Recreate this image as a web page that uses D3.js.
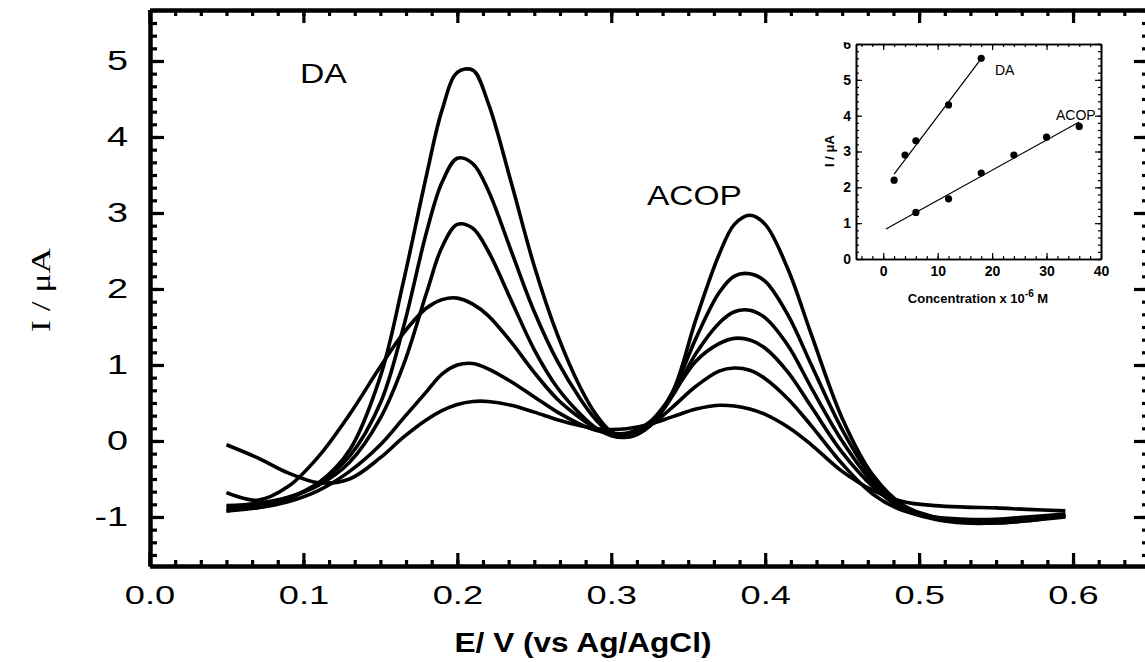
<!DOCTYPE html>
<html>
<head>
<meta charset="utf-8">
<script src="https://cdnjs.cloudflare.com/ajax/libs/d3/7.8.5/d3.min.js"></script>
<style>
  body { margin: 0; background: #fff; }
  svg { display: block; }
</style>
</head>
<body>
<div id="chart"></div>
<script>
// potential axis (V vs Ag/AgCl), shared by all six voltammograms
const potential = [0.05,0.07,0.09,0.11,0.13,0.15,0.165,0.18,0.19,0.2,0.21,0.22,0.235,0.25,0.265,0.28,0.29,0.3,0.31,0.325,0.34,0.355,0.37,0.38,0.39,0.4,0.415,0.43,0.45,0.47,0.49,0.51,0.53,0.55,0.57,0.595];

// currents (uA), largest to smallest
const curve1 = [-0.92,-0.86,-0.76,-0.55,-0.12,0.85,2.1,3.5,4.35,4.85,4.88,4.45,3.4,2.3,1.4,0.7,0.35,0.12,0.05,0.2,0.65,1.6,2.45,2.85,2.97,2.85,2.25,1.4,0.3,-0.45,-0.85,-1.0,-1.07,-1.08,-1.05,-0.98];
const curve2 = [-0.88,-0.85,-0.75,-0.55,-0.2,0.5,1.5,2.75,3.4,3.72,3.65,3.3,2.5,1.7,1.05,0.55,0.28,0.1,0.05,0.2,0.65,1.35,1.95,2.17,2.2,2.1,1.65,1.0,0.15,-0.5,-0.88,-1.02,-1.07,-1.07,-1.04,-0.99];
const curve3 = [-0.85,-0.82,-0.74,-0.58,-0.28,0.3,1.0,1.95,2.55,2.85,2.8,2.5,1.85,1.2,0.7,0.35,0.17,0.07,0.05,0.2,0.6,1.15,1.55,1.7,1.72,1.62,1.25,0.7,0.0,-0.55,-0.9,-1.03,-1.08,-1.08,-1.05,-1.0];
const curve4 = [-0.68,-0.78,-0.6,-0.2,0.35,0.98,1.42,1.75,1.86,1.88,1.8,1.65,1.3,0.9,0.55,0.3,0.17,0.1,0.1,0.25,0.62,1.05,1.28,1.35,1.33,1.22,0.9,0.45,-0.15,-0.6,-0.9,-1.02,-1.06,-1.06,-1.03,-0.98];
const curve5 = [-0.92,-0.88,-0.8,-0.65,-0.4,-0.05,0.3,0.65,0.88,1.0,1.02,0.95,0.78,0.58,0.38,0.22,0.14,0.1,0.1,0.2,0.45,0.72,0.92,0.96,0.93,0.82,0.55,0.2,-0.3,-0.7,-0.92,-1.0,-1.03,-1.03,-1.0,-0.96];
const curve6 = [-0.05,-0.22,-0.42,-0.55,-0.5,-0.22,0.05,0.28,0.4,0.48,0.52,0.52,0.47,0.38,0.28,0.2,0.16,0.15,0.16,0.22,0.32,0.42,0.47,0.46,0.42,0.35,0.18,-0.05,-0.4,-0.65,-0.8,-0.85,-0.87,-0.88,-0.9,-0.92];
const curves = [curve1, curve2, curve3, curve4, curve5, curve6];

const xTicks = [0, 0.1, 0.2, 0.3, 0.4, 0.5, 0.6];
const yTicks = [-1, 0, 1, 2, 3, 4, 5];

// inset: calibration
const daConc = [2, 4, 6, 12, 18];
const daCurrent = [2.2, 2.9, 3.3, 4.3, 5.6];
const acopConc = [6, 12, 18, 24, 30, 36];
const acopCurrent = [1.3, 1.68, 2.4, 2.9, 3.4, 3.7];
const daFitRange = [2, 18];
const acopFitRange = [0.5, 36];
const insetXTicks = [0, 10, 20, 30, 40];
const insetYTicks = [0, 1, 2, 3, 4, 5, 6];

const W = 1145, H = 662;
const FONT = "'Liberation Sans', Arial, Helvetica, sans-serif";

const svg = d3.select('#chart').append('svg')
  .attr('xmlns', 'http://www.w3.org/2000/svg')
  .attr('width', W).attr('height', H);
svg.append('rect').attr('width', W).attr('height', H).attr('fill', '#fff');

let x = d3.scaleLinear().domain([0, 0.6474]).range([149.5, 1146]);
let y = d3.scaleLinear().domain([-1.645, 5.671]).range([566, 10]);

// stretch text horizontally (the original figure is a bit wide)
function stretch(sel, f) {
  sel.each(function() {
    const l = this.getComputedTextLength();
    this.setAttribute('textLength', l * f);
    this.setAttribute('lengthAdjust', 'spacingAndGlyphs');
  });
}

function styleAxis(g, domainW, tickW) {
  g.attr('font-family', FONT);
  g.select('.domain').attr('stroke', '#000').attr('stroke-width', domainW);
  g.selectAll('.tick line').attr('stroke', '#000').attr('stroke-width', tickW);
  g.selectAll('.tick text').attr('fill', '#000');
}

const plain = d => String(d);   // keep the hyphen minus of the original

const xMinor = d3.range(0, 39).map(i => i / 60);
const yMinor = d3.range(-9, 35).map(i => i / 6).filter(v => v > -1.645 && v < 5.671);

// ---- main axes ----
const gx = svg.append('g').attr('transform', 'translate(0,566)')
  .call(d3.axisBottom(x).tickValues(xTicks).tickFormat(d3.format('.1f'))
    .tickSizeInner(-13).tickSizeOuter(0).tickPadding(20));
styleAxis(gx, 4, 3.2);
gx.selectAll('.tick text').attr('font-size', 25);
stretch(gx.selectAll('.tick text'), 1.45);

const gxm = svg.append('g').attr('transform', 'translate(0,566)')
  .call(d3.axisBottom(x).tickValues(xMinor).tickFormat('').tickSizeInner(-6).tickSizeOuter(0));
styleAxis(gxm, 4, 3.2);

const gt = svg.append('g').attr('transform', 'translate(0,10)')
  .call(d3.axisTop(x).tickValues(xTicks).tickFormat('').tickSizeInner(-13).tickSizeOuter(0));
styleAxis(gt, 4, 3.2);
const gtm = svg.append('g').attr('transform', 'translate(0,10)')
  .call(d3.axisTop(x).tickValues(xMinor).tickFormat('').tickSizeInner(-6).tickSizeOuter(0));
styleAxis(gtm, 4, 3.2);

const gy = svg.append('g').attr('transform', 'translate(150,0)')
  .call(d3.axisLeft(y).tickValues(yTicks).tickFormat(plain)
    .tickSizeInner(-14).tickSizeOuter(0).tickPadding(22));
styleAxis(gy, 4, 3.2);
gy.selectAll('.tick text').attr('font-size', 27);
stretch(gy.selectAll('.tick text'), 1.4);

const gym = svg.append('g').attr('transform', 'translate(150,0)')
  .call(d3.axisLeft(y).tickValues(yMinor).tickFormat('').tickSizeInner(-7).tickSizeOuter(0));
styleAxis(gym, 4, 3.2);

const gr = svg.append('g').attr('transform', 'translate(1148,0)')
  .call(d3.axisRight(y).tickValues(yTicks).tickFormat('').tickSizeInner(-14).tickSizeOuter(0));
styleAxis(gr, 4, 3.2);
const grm = svg.append('g').attr('transform', 'translate(1148,0)')
  .call(d3.axisRight(y).tickValues(yMinor).tickFormat('').tickSizeInner(-6).tickSizeOuter(0));
styleAxis(grm, 4, 3.2);

// ---- voltammograms ----
const line = d3.line()
  .x((d, i) => x(potential[i]))
  .y(d => y(d))
  .curve(d3.curveCatmullRom.alpha(0.5));

svg.append('g').selectAll('path')
  .data(curves)
  .enter().append('path')
  .attr('d', line)
  .attr('fill', 'none')
  .attr('stroke', '#000')
  .attr('stroke-width', 3.6)
  .attr('stroke-linejoin', 'round');

// peak labels
const da = svg.append('text').attr('x', 300).attr('y', 83)
  .attr('font-family', FONT).attr('font-size', 27).text('DA');
stretch(da, 1.25);
const acop = svg.append('text').attr('x', 647).attr('y', 205)
  .attr('font-family', FONT).attr('font-size', 27).text('ACOP');
stretch(acop, 1.24);

// axis titles
svg.append('text')
  .attr('x', 583).attr('y', 652)
  .attr('text-anchor', 'middle')
  .attr('font-family', FONT).attr('font-weight', 'bold').attr('font-size', 27)
  .attr('textLength', 257).attr('lengthAdjust', 'spacingAndGlyphs')
  .text('E/ V (vs Ag/AgCl)');

svg.append('text')
  .attr('transform', 'translate(50,290) rotate(-90)')
  .attr('text-anchor', 'middle')
  .attr('font-family', "'Liberation Serif', 'Times New Roman', serif").attr('font-size', 27)
  .attr('textLength', 84).attr('lengthAdjust', 'spacingAndGlyphs')
  .text('I / μA');

// ---- inset ----
const xi = d3.scaleLinear().domain([-5, 40]).range([856, 1101]);
const yi = d3.scaleLinear().domain([0, 6]).range([259, 44]);

svg.append('clipPath').attr('id', 'insetClip')
  .append('rect').attr('x', 800).attr('y', 42).attr('width', 345).attr('height', 280);

const inset = svg.append('g').attr('clip-path', 'url(#insetClip)');

inset.append('rect')
  .attr('x', xi.range()[0]).attr('y', yi.range()[1])
  .attr('width', xi.range()[1] - xi.range()[0])
  .attr('height', yi.range()[0] - yi.range()[1])
  .attr('fill', '#fff');

const ixMinor = d3.range(-4, 40, 2);
const iyMinor = d3.range(0, 31).map(i => i / 5);

const ib = inset.append('g').attr('transform', 'translate(0,259)')
  .call(d3.axisBottom(xi).tickValues(insetXTicks).tickFormat(plain)
    .tickSizeInner(-6).tickSizeOuter(0).tickPadding(7));
styleAxis(ib, 1.6, 1.2);
ib.selectAll('.tick text').attr('font-size', 14).attr('font-weight', 'bold');
inset.append('g').attr('transform', 'translate(0,259)')
  .call(d3.axisBottom(xi).tickValues(ixMinor).tickFormat('').tickSizeInner(-3).tickSizeOuter(0))
  .call(g => styleAxis(g, 1.6, 1.2));

inset.append('g').attr('transform', 'translate(0,44)')
  .call(d3.axisTop(xi).tickValues(insetXTicks).tickFormat('').tickSizeInner(-6).tickSizeOuter(0))
  .call(g => styleAxis(g, 1.6, 1.2));
inset.append('g').attr('transform', 'translate(0,44)')
  .call(d3.axisTop(xi).tickValues(ixMinor).tickFormat('').tickSizeInner(-3).tickSizeOuter(0))
  .call(g => styleAxis(g, 1.6, 1.2));

const il = inset.append('g').attr('transform', 'translate(856,0)')
  .call(d3.axisLeft(yi).tickValues(insetYTicks).tickFormat(plain)
    .tickSizeInner(-6).tickSizeOuter(0).tickPadding(5));
styleAxis(il, 1.6, 1.2);
il.selectAll('.tick text').attr('font-size', 14).attr('font-weight', 'bold');
inset.append('g').attr('transform', 'translate(856,0)')
  .call(d3.axisLeft(yi).tickValues(iyMinor).tickFormat('').tickSizeInner(-3).tickSizeOuter(0))
  .call(g => styleAxis(g, 1.6, 1.2));

inset.append('g').attr('transform', 'translate(1101,0)')
  .call(d3.axisRight(yi).tickValues(insetYTicks).tickFormat('').tickSizeInner(-6).tickSizeOuter(0))
  .call(g => styleAxis(g, 1.6, 1.2));
inset.append('g').attr('transform', 'translate(1101,0)')
  .call(d3.axisRight(yi).tickValues(iyMinor).tickFormat('').tickSizeInner(-3).tickSizeOuter(0))
  .call(g => styleAxis(g, 1.6, 1.2));

// least-squares fits
function fit(xs, ys) {
  const mx = d3.mean(xs), my = d3.mean(ys);
  const sxy = d3.sum(xs, (v, i) => (v - mx) * (ys[i] - my));
  const sxx = d3.sum(xs, v => (v - mx) * (v - mx));
  const b = sxy / sxx;
  return v => my + b * (v - mx);
}
const daFit = fit(daConc, daCurrent);
const acopFit = fit(acopConc, acopCurrent);
const fitLine = d3.line().x(d => xi(d[0])).y(d => yi(d[1]));

inset.append('path')
  .attr('d', fitLine(daFitRange.map(v => [v, daFit(v)])))
  .attr('stroke', '#000').attr('stroke-width', 1.2).attr('fill', 'none');
inset.append('path')
  .attr('d', fitLine(acopFitRange.map(v => [v, acopFit(v)])))
  .attr('stroke', '#000').attr('stroke-width', 1.2).attr('fill', 'none');

inset.append('g').selectAll('circle')
  .data(daConc.map((v, i) => [v, daCurrent[i]]).concat(acopConc.map((v, i) => [v, acopCurrent[i]])))
  .enter().append('circle')
  .attr('cx', d => xi(d[0])).attr('cy', d => yi(d[1]))
  .attr('r', 3.6).attr('fill', '#000');

inset.append('text').attr('x', 995).attr('y', 75)
  .attr('font-family', FONT).attr('font-size', 14).text('DA');
inset.append('text').attr('x', 1056).attr('y', 120)
  .attr('font-family', FONT).attr('font-size', 14).text('ACOP');

const ct = inset.append('text').attr('x', 978).attr('y', 303)
  .attr('text-anchor', 'middle')
  .attr('font-family', FONT).attr('font-weight', 'bold').attr('font-size', 13);
ct.append('tspan').text('Concentration x 10');
ct.append('tspan').attr('dy', -6).attr('font-size', 10).text('-6');
ct.append('tspan').attr('dy', 6).text(' M');

inset.append('text')
  .attr('transform', 'translate(834,151) rotate(-90)')
  .attr('text-anchor', 'middle')
  .attr('font-family', FONT).attr('font-weight', 'bold').attr('font-size', 13)
  .text('I / μA');
</script>
</body>
</html>
